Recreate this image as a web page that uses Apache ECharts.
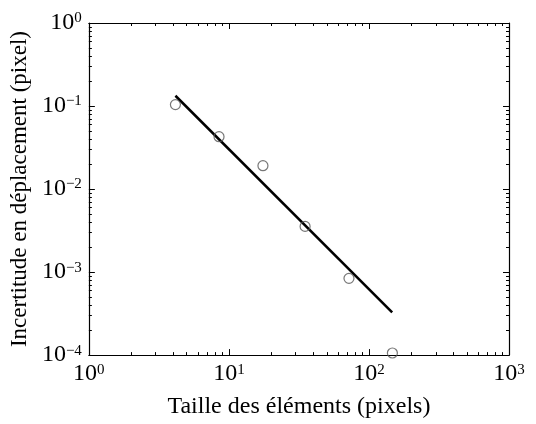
<!DOCTYPE html>
<html><head><meta charset="utf-8">
<script src="https://cdn.jsdelivr.net/npm/echarts@6/dist/echarts.min.js"></script>
<style>html,body{margin:0;padding:0;background:#fff}#c{width:536px;height:424px}</style>
</head><body><div id="c"></div>
<script>
const sizes = [4.15, 8.5, 17.5, 35, 72, 147];
const uncertainty = [0.104, 0.0427, 0.0191, 0.00355, 0.00084, 0.000106];
const fitX = [4.15, 146.5];
const fitY = [0.133, 0.000326];
const xTitle = 'Taille des éléments (pixels)';
const yTitle = 'Incertitude en déplacement (pixel)';
const xDecades = [1, 10, 100];
const yDecades = [0.0001, 0.001, 0.01, 0.1];
const minorSteps = [2, 3, 4, 5, 6, 7, 8, 9];

const FONT = 'Liberation Serif';
const X_MIN = 1, X_MAX = 1000, Y_MIN = 0.0001, Y_MAX = 1;
function powLabel(v){
  const e = Math.round(Math.log10(v));
  const s = e < 0 ? '\u2212' + (-e) : String(e);
  return '{b|10}{s|' + s + '}';
}
const rich = {
  b:{fontFamily:FONT,fontSize:24,color:'#000',verticalAlign:'bottom',lineHeight:24},
  s:{fontFamily:FONT,fontSize:15,color:'#000',verticalAlign:'top',lineHeight:24,padding:[0,0,13,0]}
};
const common = {
  type:'log', logBase:10,
  axisLine:{show:true,onZero:false,lineStyle:{color:'#000',width:1.2}},
  axisTick:{show:true,inside:true,length:6,lineStyle:{color:'#000',width:1}},
  minorTick:{show:false},
  splitLine:{show:false}, minorSplitLine:{show:false}
};
const xMinor = [], yMinor = [];
xDecades.forEach(d => minorSteps.forEach(m => xMinor.push(d*m)));
yDecades.forEach(d => minorSteps.forEach(m => yMinor.push(+(d*m).toPrecision(3))));

function minorAxis(pos, min, max, vals){
  return {type:'log', logBase:10, position:pos, min:min, max:max,
    axisLine:{show:false}, axisLabel:{show:false}, splitLine:{show:false},
    axisTick:{show:true,inside:true,length:3,customValues:vals,lineStyle:{color:'#000',width:1}}};
}
const chart = echarts.init(document.getElementById('c'));
chart.setOption({
  backgroundColor:'#fff',
  animation:false,
  grid:{left:87,top:23,right:27,bottom:68,containLabel:false},
  xAxis:[
    Object.assign({}, common, {position:'bottom',min:X_MIN,max:X_MAX,
      name:xTitle,nameLocation:'middle',nameGap:30,
      nameTextStyle:{fontFamily:FONT,fontSize:24,color:'#000'},
      axisLabel:{formatter:powLabel,rich:rich,margin:7}}),
    Object.assign({}, common, {position:'top',min:X_MIN,max:X_MAX,axisLabel:{show:false}}),
    minorAxis('bottom', X_MIN, X_MAX, xMinor),
    minorAxis('top', X_MIN, X_MAX, xMinor)
  ],
  yAxis:[
    Object.assign({}, common, {position:'left',min:Y_MIN,max:Y_MAX,
      name:yTitle,nameLocation:'middle',nameGap:54,
      nameTextStyle:{fontFamily:FONT,fontSize:23,color:'#000'},
      axisLabel:{formatter:powLabel,rich:rich,margin:7}}),
    Object.assign({}, common, {position:'right',min:Y_MIN,max:Y_MAX,axisLabel:{show:false}}),
    minorAxis('left', Y_MIN, Y_MAX, yMinor),
    minorAxis('right', Y_MIN, Y_MAX, yMinor)
  ],
  series:[
    {type:'line',data:fitX.map((x,i)=>[x,fitY[i]]),symbol:'none',
     lineStyle:{color:'#000',width:2.5},z:2},
    {type:'scatter',data:sizes.map((x,i)=>[x,uncertainty[i]]),symbol:'circle',symbolSize:10,
     itemStyle:{color:'rgba(0,0,0,0)',borderColor:'#555',borderWidth:1.2},z:3}
  ]
});
</script></body></html>
